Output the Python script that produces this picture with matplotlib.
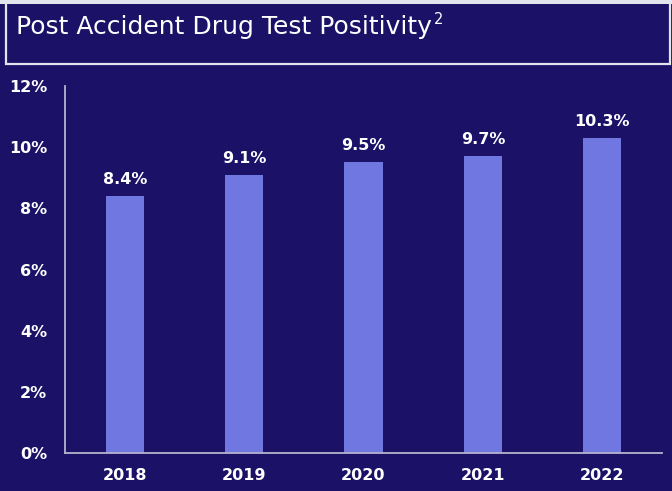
import matplotlib.pyplot as plt
from matplotlib.patches import Rectangle
import numpy as np

years = ['2018', '2019', '2020', '2021', '2022']
positivity = [8.4, 9.1, 9.5, 9.7, 10.3]
yticks = [0, 2, 4, 6, 8, 10, 12]

bg = '#1b1167'
bar_col = '#7077e0'
axis_col = '#b4b4cc'
font = 'DejaVu Sans'

W, H = 672, 491
fig = plt.figure(figsize=(W / 100, H / 100), dpi=100, facecolor=bg)

# title box
fig.patches.append(Rectangle((0, 1 - 4 / H), 1, 4 / H, transform=fig.transFigure,
                             facecolor='#e4e4ee', edgecolor='none'))
fig.patches.append(Rectangle((6 / W, 1 - 64 / H), 664 / W, 62 / H, transform=fig.transFigure,
                             facecolor='none', edgecolor='#e4e4ee', linewidth=1.6))
t = fig.text(16 / W, 1 - 27 / H, 'Post Accident Drug Test Positivity', color='white',
             fontsize=18, family=font, va='center', ha='left')
fig.canvas.draw()
bb = t.get_window_extent()
fig.text(bb.x1 / W + 2 / W, 1 - 20 / H, '2', color='white', fontsize=10.5,
         family=font, va='center', ha='left')

ax = fig.add_axes([65 / W, 1 - 453 / H, 597 / W, 367 / H])
ax.set_facecolor(bg)
x = np.arange(len(years))
bars = ax.bar(x, positivity, width=0.32, color=bar_col)
for xi, v in zip(x, positivity):
    ax.text(xi, v + 0.3, f'{v}%', ha='center', va='bottom', color='white',
            fontsize=11.5, fontweight='bold', family=font)

ax.set_xlim(-0.5, 4.5)
ax.set_ylim(0, 12)
ax.set_xticks(x)
ax.set_xticklabels(years)
ax.set_yticks(yticks)
ax.set_yticklabels([f'{t}%' for t in yticks])
for lab in ax.get_xticklabels() + ax.get_yticklabels():
    lab.set_color('white')
    lab.set_fontsize(11.5)
    lab.set_fontweight('bold')
    lab.set_family(font)
ax.tick_params(axis='both', length=0)
ax.tick_params(axis='x', pad=11)
ax.tick_params(axis='y', pad=13)
for s in ['top', 'right']:
    ax.spines[s].set_visible(False)
for s in ['left', 'bottom']:
    ax.spines[s].set_color(axis_col)
    ax.spines[s].set_linewidth(1.3)

fig.savefig('out.png', dpi=100, facecolor=bg)
